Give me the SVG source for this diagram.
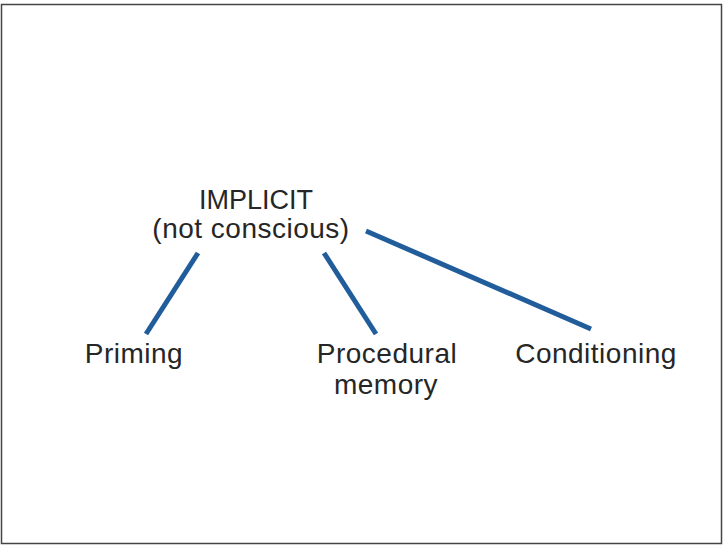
<svg xmlns="http://www.w3.org/2000/svg" width="723" height="546" viewBox="0 0 723 546">
<style>
.t{font-family:"Liberation Sans","Helvetica Neue",Arial,sans-serif;font-size:28px;letter-spacing:0.5px;fill:#262626;text-anchor:middle}
.h{font-size:27px;letter-spacing:0}
.c{stroke:#215d9a;stroke-width:5;stroke-linecap:butt;fill:none}
</style>
<rect x="0" y="0" width="723" height="546" fill="#fff"/>
<rect x="1.5" y="4.5" width="720" height="539" fill="none" stroke="#444" stroke-width="1.5"/>
<g id="connectors">
<line class="c" x1="198" y1="253" x2="146" y2="334"/>
<line class="c" x1="324" y1="253" x2="376" y2="334"/>
<line class="c" x1="366" y1="231" x2="591" y2="329"/>
</g>
<g id="implicit">
<text class="t h" x="256" y="209">IMPLICIT</text>
<text class="t" x="251" y="238">(not conscious)</text>
</g>
<g id="priming"><text class="t" x="134" y="363">Priming</text></g>
<g id="procedural"><text class="t" x="387" y="363">Procedural</text><text class="t" x="386" y="394">memory</text></g>
<g id="conditioning"><text class="t" x="596" y="363">Conditioning</text></g>
</svg>
